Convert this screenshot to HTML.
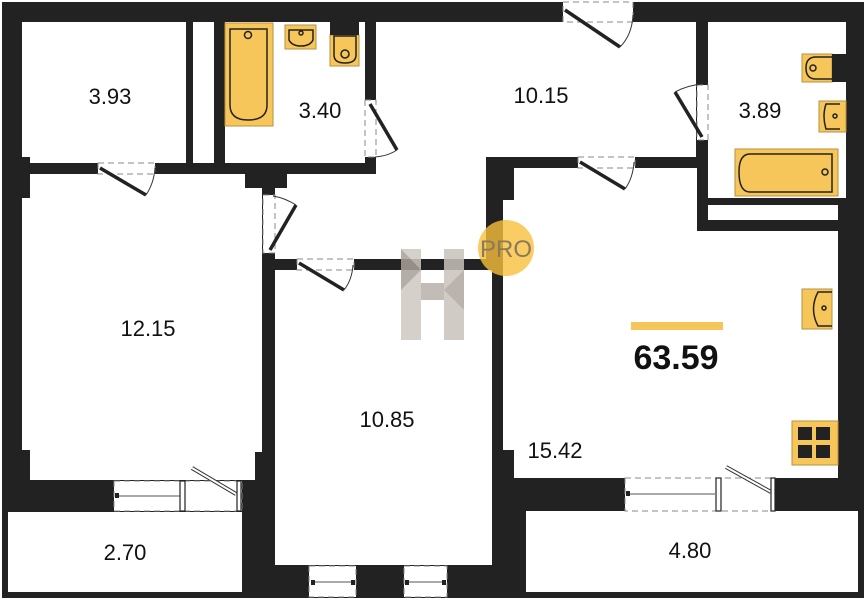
<!DOCTYPE html>
<html><head><meta charset="utf-8"><style>
html,body{margin:0;padding:0;background:#fff;}
svg{display:block;}
text{font-family:"Liberation Sans",sans-serif;fill:#111;}
</style></head><body>
<svg width="866" height="600" viewBox="0 0 866 600" xmlns="http://www.w3.org/2000/svg">
<rect x="0" y="0" width="866" height="600" fill="#fff"/>
<rect x="2" y="2" width="862" height="596" fill="#222"/>
<g fill="#fff">
  <rect x="22" y="22" width="164" height="141"/>
  <rect x="193" y="22" width="21" height="141"/>
  <rect x="225" y="22" width="140" height="141"/>
  <rect x="376" y="22" width="320" height="135"/>
  <rect x="376" y="150" width="110" height="109"/>
  <rect x="287" y="174" width="199" height="85"/>
  <rect x="275" y="188" width="20" height="71"/>
  <rect x="708" y="22" width="138" height="176"/>
  <rect x="708" y="205" width="130" height="15"/>
  <rect x="514" y="168" width="183" height="310"/>
  <rect x="503" y="200" width="20" height="250"/>
  <rect x="696" y="231" width="142" height="247"/>
  <rect x="22" y="174" width="240" height="306"/>
  <rect x="275" y="270" width="217" height="295"/>
  <rect x="8" y="512" width="234" height="80"/>
  <rect x="526" y="511" width="332" height="81"/>
</g>
<rect x="245" y="172" width="42" height="16" fill="#222"/>
<rect x="22" y="157" width="8" height="41" fill="#222"/>
<rect x="22" y="450" width="8" height="30" fill="#222"/>
<rect x="255" y="452" width="7" height="28" fill="#222"/>
<rect x="503" y="450" width="9" height="28" fill="#222"/>

<g fill="#fff" stroke="#888" stroke-width="1" stroke-dasharray="6,4">
  <rect x="114" y="481" width="128" height="30"/>
  <rect x="625" y="478" width="150" height="33"/>
  <rect x="309" y="566" width="47" height="31"/>
  <rect x="404" y="566" width="43" height="31"/>
  <rect x="563" y="2" width="70" height="20"/>
  <rect x="98" y="163" width="57" height="11"/>
  <rect x="365" y="100" width="11" height="57"/>
  <rect x="263" y="195" width="12" height="58"/>
  <rect x="297" y="259" width="57" height="11"/>
  <rect x="697" y="85" width="11" height="55"/>
  <rect x="578" y="157" width="57" height="11"/>
</g>
<g stroke="#555" stroke-width="1" fill="none">
  <line x1="117" y1="496" x2="180" y2="496"/>
  <line x1="628" y1="494" x2="715" y2="494"/>
  <line x1="312" y1="582" x2="353" y2="582"/>
  <line x1="407" y1="582" x2="444" y2="582"/>
</g>
<g stroke="#333" stroke-width="4" fill="none"><line x1="192" y1="468" x2="236" y2="494"/><line x1="726" y1="467" x2="771" y2="492"/></g>
<g stroke="#fff" stroke-width="2" fill="none"><line x1="192" y1="468" x2="236" y2="494"/><line x1="726" y1="467" x2="771" y2="492"/></g>
<g fill="#fff" stroke="#222" stroke-width="1.2">
  <rect x="180" y="481" width="5" height="30"/>
  <rect x="237" y="481" width="4" height="30"/>
  <rect x="716" y="478" width="5" height="33"/>
  <rect x="771" y="478" width="4" height="33"/>
</g>
<g fill="#222">
  <rect x="115" y="493" width="4" height="5"/>
  <rect x="626" y="491" width="4" height="5"/>
  <rect x="311" y="580" width="4" height="5"/>
  <rect x="351" y="580" width="4" height="5"/>
  <rect x="405" y="580" width="4" height="5"/>
  <rect x="442" y="580" width="4" height="5"/>
</g>
<g stroke="#222" stroke-width="3.5" fill="none">
  <line x1="565" y1="10" x2="620" y2="47"/>
  <line x1="100" y1="168" x2="146" y2="195"/>
  <line x1="370" y1="104" x2="397" y2="150"/>
  <line x1="270" y1="250" x2="296" y2="205"/>
  <line x1="299" y1="263" x2="344" y2="290"/>
  <line x1="702" y1="137" x2="675" y2="92"/>
  <line x1="580" y1="162" x2="625" y2="189"/>
</g>
<g stroke="#333" stroke-width="1" fill="none">
  <path d="M620 47 Q632 35 633 15"/>
  <path d="M146 195 Q154 183 155 168"/>
  <path d="M397 150 Q388 156 375 157"/>
  <path d="M296 205 Q285 198 273 196"/>
  <path d="M344 290 Q352 280 353 265"/>
  <path d="M675 92 Q688 85 703 84"/>
  <path d="M625 189 Q633 178 634 162"/>
</g>

<g fill="#f7c65a" stroke="#b99040" stroke-width="1">
  <rect x="225" y="23" width="48" height="103"/>
  <rect x="285" y="25" width="31" height="24"/>
  <rect x="330" y="35" width="29" height="31"/>
  <rect x="802" y="54" width="30" height="28"/>
  <rect x="819" y="101" width="27" height="31"/>
  <rect x="735" y="149" width="103" height="47"/>
  <rect x="802" y="289" width="30" height="40"/>
  <rect x="792" y="421" width="46" height="44"/>
</g>
<rect x="330" y="22" width="29" height="13" fill="#222"/>
<rect x="832" y="54" width="14" height="28" fill="#222"/>
<g fill="none" stroke="#222" stroke-width="1.5">
  <path d="M230 29 H267 V105 Q267 120 248 120 Q230 120 230 105 Z"/>
  <circle cx="248" cy="35" r="3.5"/>
  <path d="M289 30 H313 V40 Q310 46 301 46 Q292 46 289 40 Z"/>
  <circle cx="301" cy="33" r="2"/>
  <path d="M334 36 H356 V55 Q356 63 345 63 Q334 63 334 55 Z"/>
  <circle cx="345" cy="54" r="4"/>
  <path d="M832 57 H816 Q806 57 806 68 Q806 79 816 79 H832"/>
  <circle cx="813" cy="68" r="3"/>
  <path d="M840 104 H826 Q822 116 826 129 H840"/>
  <circle cx="835" cy="116" r="2"/>
  <path d="M832 154 H750 Q739 154 739 172 Q739 192 750 192 H832 Z"/>
  <circle cx="825" cy="172" r="3"/>
  <path d="M832 292 H818 Q809 309 818 326 H832"/>
  <circle cx="824" cy="308" r="2"/>
</g>
<g fill="#222">
  <rect x="798" y="427" width="14" height="13"/>
  <rect x="816" y="427" width="14" height="13"/>
  <rect x="798" y="445" width="14" height="13"/>
  <rect x="816" y="445" width="14" height="13"/>
</g>

<g opacity="0.85">
  <rect x="401" y="249" width="20" height="91" fill="#cfc8c2"/>
  <rect x="444" y="249" width="20" height="91" fill="#c9c2bb"/>
  <rect x="421" y="283" width="23" height="17" fill="#b9b1aa"/>
  <polygon points="401,249 421,270 401,290" fill="#a9a09a"/>
  <polygon points="444,290 464,270 464,310" fill="#b0a8a1"/>
</g>
<circle cx="506" cy="248" r="28" fill="#f7c03c" opacity="0.8"/>
<text x="506" y="257" font-size="24" text-anchor="middle" style="fill:#8a7a5a">PRO</text>

<g font-size="22" text-anchor="middle">
  <text x="110" y="104">3.93</text>
  <text x="320" y="118">3.40</text>
  <text x="541" y="103">10.15</text>
  <text x="760" y="118">3.89</text>
  <text x="148" y="336">12.15</text>
  <text x="387" y="427">10.85</text>
  <text x="555" y="458">15.42</text>
  <text x="125" y="560">2.70</text>
  <text x="690" y="558">4.80</text>
</g>
<rect x="631" y="322" width="92" height="8" fill="#f7c65a"/>
<text x="676" y="369" font-size="34" font-weight="bold" text-anchor="middle">63.59</text>
</svg>
</body></html>
